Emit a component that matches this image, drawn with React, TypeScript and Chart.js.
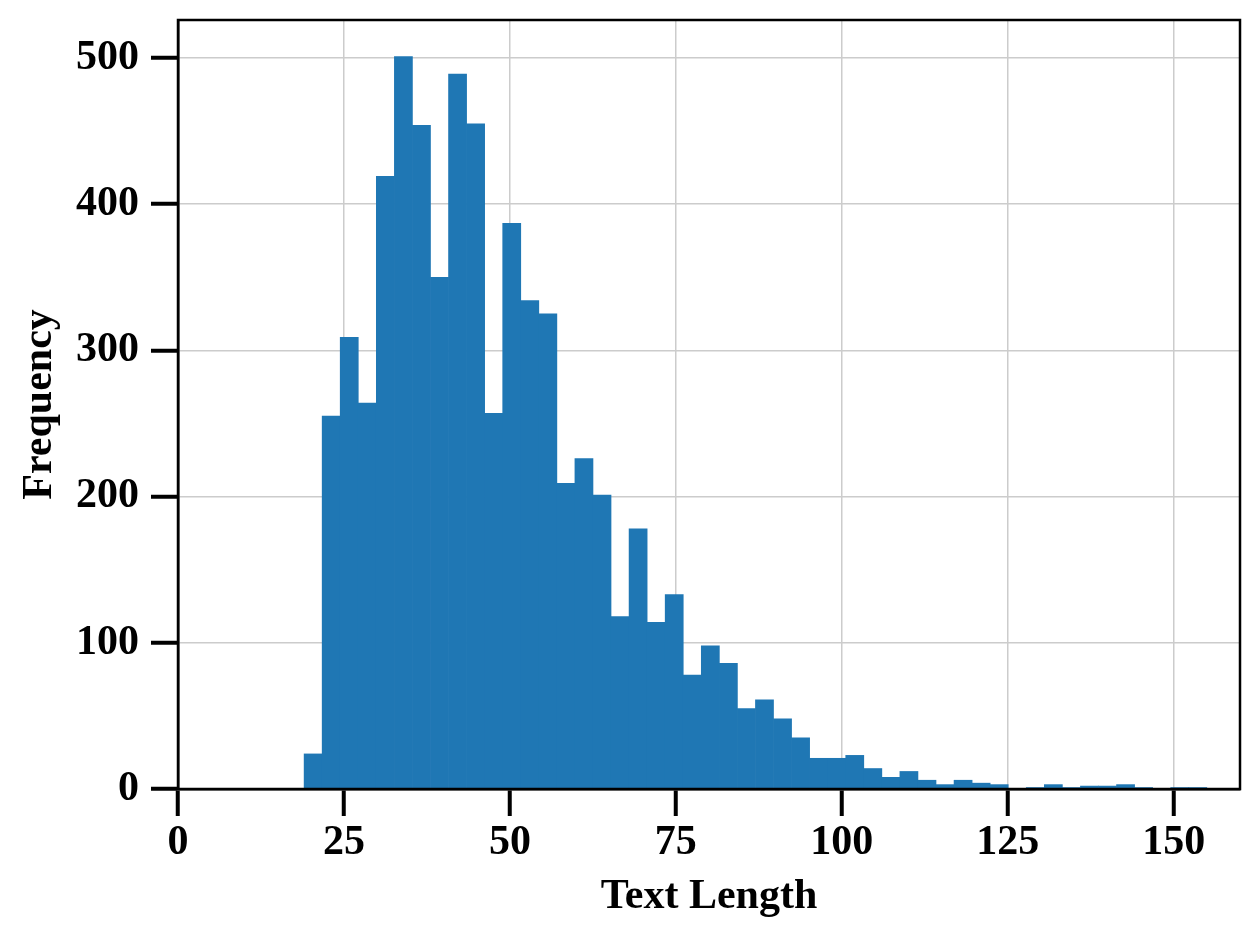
import React, { useEffect, useRef } from "react";
import { Chart, registerables } from "chart.js";

Chart.register(...registerables);

// Histogram data
const binStart = 19;
const binWidth = 2.72;
const counts = [
  24, 255, 309, 264, 419, 501, 454, 350, 489, 455,
  257, 387, 334, 325, 209, 226, 201, 118, 178, 114,
  133, 78, 98, 86, 55, 61, 48, 35, 21, 21,
  23, 14, 8, 12, 6, 3, 6, 4, 3, 0,
  1, 3, 1, 2, 2, 3, 1, 0, 1, 1,
];
const xTicks = [0, 25, 50, 75, 100, 125, 150];
const yTicks = [0, 100, 200, 300, 400, 500];
const xTitle = "Text Length";
const yTitle = "Frequency";

const FONT = "'Liberation Serif', 'Times New Roman', Times, serif";

const framePlugin = {
  id: "frame",
  afterDraw(chart: any) {
    const { ctx, chartArea } = chart;
    ctx.save();
    ctx.strokeStyle = "#000";
    ctx.lineWidth = 2.5;
    ctx.strokeRect(chartArea.left, chartArea.top, chartArea.right - chartArea.left, chartArea.bottom - chartArea.top);
    ctx.restore();
  },
};

export default function App() {
  const ref = useRef<HTMLCanvasElement | null>(null);
  useEffect(() => {
    if (!ref.current) return;
    const data = counts.map((c, i) => ({ x: binStart + binWidth * (i + 0.5), y: c }));
    const chart = new Chart(ref.current, {
      type: "bar",
      data: {
        datasets: [
          {
            data: data as any,
            backgroundColor: "#1f77b4",
            borderWidth: 0,
            barPercentage: 1.0,
            categoryPercentage: 1.0,
            grouped: false,
          },
        ],
      },
      plugins: [framePlugin],
      options: {
        animation: false,
        responsive: false,
        maintainAspectRatio: false,
        layout: { padding: { top: 20, right: 20, left: 0, bottom: 0 } },
        plugins: { legend: { display: false }, tooltip: { enabled: false } },
        scales: {
          x: {
            type: "linear",
            min: 0,
            max: 160,
            offset: false,
            afterBuildTicks: (s: any) => {
              s.ticks = xTicks.map((v) => ({ value: v }));
            },
            afterFit: (s: any) => {
              s.height = 151;
              s.paddingLeft = 0;
              s.paddingRight = 0;
            },
            grid: {
              offset: false,
              color: "#cccccc",
              lineWidth: 1.5,
              tickColor: "#000",
              tickLength: 27,
              tickWidth: 4,
              drawTicks: true,
            },
            border: { display: true, color: "#000", width: 2.5 },
            ticks: {
              color: "#000",
              padding: 2,
              font: { family: FONT, size: 42, weight: "bold" },
              maxRotation: 0,
              autoSkip: false,
            },
            title: {
              display: true,
              text: xTitle,
              color: "#000",
              font: { family: FONT, size: 42, weight: "bold" },
              padding: { top: 0, bottom: 18 },
            },
          },
          y: {
            type: "linear",
            min: 0,
            max: 526,
            afterBuildTicks: (s: any) => {
              s.ticks = yTicks.map((v) => ({ value: v }));
            },
            afterFit: (s: any) => {
              s.width = 178;
              s.paddingTop = 0;
              s.paddingBottom = 0;
            },
            grid: {
              color: "#cccccc",
              lineWidth: 1.5,
              tickColor: "#000",
              tickLength: 27,
              tickWidth: 4,
              drawTicks: true,
            },
            border: { display: true, color: "#000", width: 2.5 },
            ticks: {
              color: "#000",
              padding: 12,
              font: { family: FONT, size: 42, weight: "bold" },
              autoSkip: false,
            },
            title: {
              display: true,
              text: yTitle,
              color: "#000",
              font: { family: FONT, size: 42, weight: "bold" },
              padding: { top: 15, bottom: 4 },
            },
          },
        },
      } as any,
    });
    return () => chart.destroy();
  }, []);
  return (
    <div style={{ position: "absolute", left: 0, top: 0, width: 1260, height: 940, background: "#fff" }}>
      <canvas ref={ref} width={1260} height={940} style={{ width: 1260, height: 940, display: "block" }} />
    </div>
  );
}
